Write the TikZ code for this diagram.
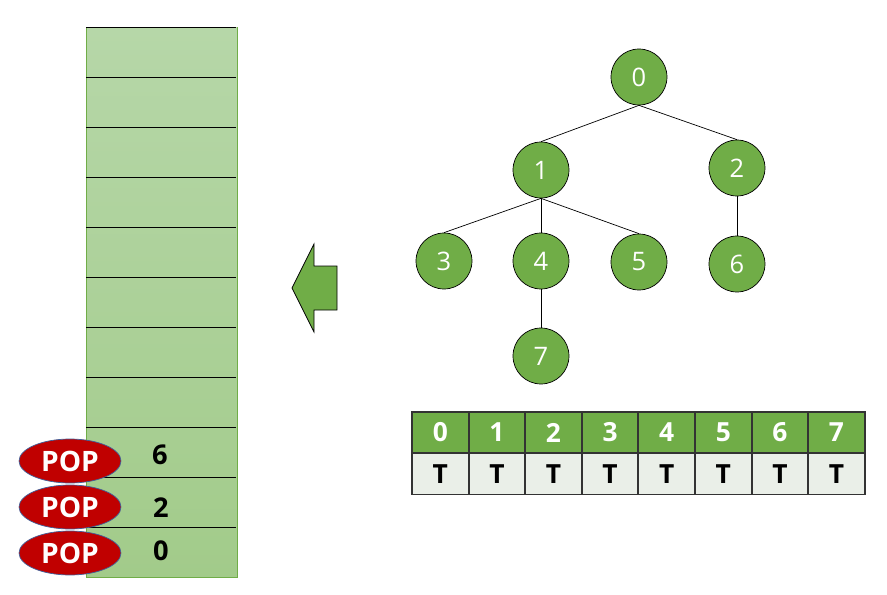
\documentclass[tikz,border=0pt]{standalone}
\usepackage{fontspec}
\setmainfont{Open Sans}
\usetikzlibrary{shapes.geometric}
\definecolor{leaf}{HTML}{70AD47}
\definecolor{stacktop}{HTML}{B6D7A8}
\definecolor{stackbot}{HTML}{A2CB8A}
\definecolor{popred}{HTML}{C00000}
\definecolor{popedge}{HTML}{41609A}
\definecolor{cellgray}{HTML}{EAEFE8}
\begin{document}
\begin{tikzpicture}[x=0.02cm,y=-0.02cm]
    \tikzstyle{vertex}=[draw,shape=circle,fill=leaf,minimum size=1.12cm,inner sep=0,text=white,font=\fontsize{14.5}{17}\selectfont]
    \tikzstyle{pop}=[draw=popedge,shape=ellipse,fill=popred,minimum width=2.04cm,minimum height=0.88cm,inner sep=0,text=white,font=\fontsize{16}{19}\selectfont\bfseries]
    \tikzstyle{num}=[font=\fontsize{15.5}{18}\selectfont\bfseries]
    \tikzstyle{head}=[draw=black!80,line width=1.1pt,fill=leaf,minimum width=1.132cm,minimum height=0.82cm,inner sep=0,text=white,font=\fontsize{15}{18}\selectfont\bfseries]
    \tikzstyle{cell}=[head,fill=cellgray,text=black]
    \useasboundingbox (0,0) rectangle (887,595);

    % stack
    \shade[top color=stacktop,bottom color=stackbot] (86,27) rectangle (237,577);
    \draw[leaf] (86,27) -- (86,577) -- (237,577) -- (237,27);
    \foreach \y in {27,77,...,527}
      \draw (86,\y) -- (236,\y);
    \node[num] (s6) at (160,455) {6};
    \node[num] (s2) at (161,508) {2};
    \node[num] (s0) at (161,551) {0};
    \node[pop] (p6) at (70,461) {POP};
    \node[pop] (p2) at (70,507) {POP};
    \node[pop] (p0) at (70,553) {POP};

    % arrow
    \draw[fill=leaf] (292,288) -- (314,244) -- (314,266) -- (337,266) -- (337,310) -- (314,310) -- (314,332) -- cycle;

    % tree
    \node[vertex](n0) at (639,77){0};
    \node[vertex](n1) at (541,170){1};
    \node[vertex](n2) at (737,168){2};
    \node[vertex](n3) at (444,261){3};
    \node[vertex](n4) at (541,261){4};
    \node[vertex](n5) at (639,262){5};
    \node[vertex](n6) at (737,264){6};
    \node[vertex](n7) at (541,356){7};
    \draw (n0.south) -- (n1.north);
    \draw (n0.south) -- (n2.north);
    \draw (n1.south) -- (n3.north);
    \draw (n1.south) -- (n4.north);
    \draw (n1.south) -- (n5.north);
    \draw (n2.south) -- (n6.north);
    \draw (n4.south) -- (n7.north);

    % visited table
    \foreach \i in {0,...,7}{
      \node[head] (h\i) at ({440.3+\i*56.6},432.5) {\i};
      \node[cell] (t\i) at ({440.3+\i*56.6},474) {T};
    }
  \end{tikzpicture}
\end{document}
